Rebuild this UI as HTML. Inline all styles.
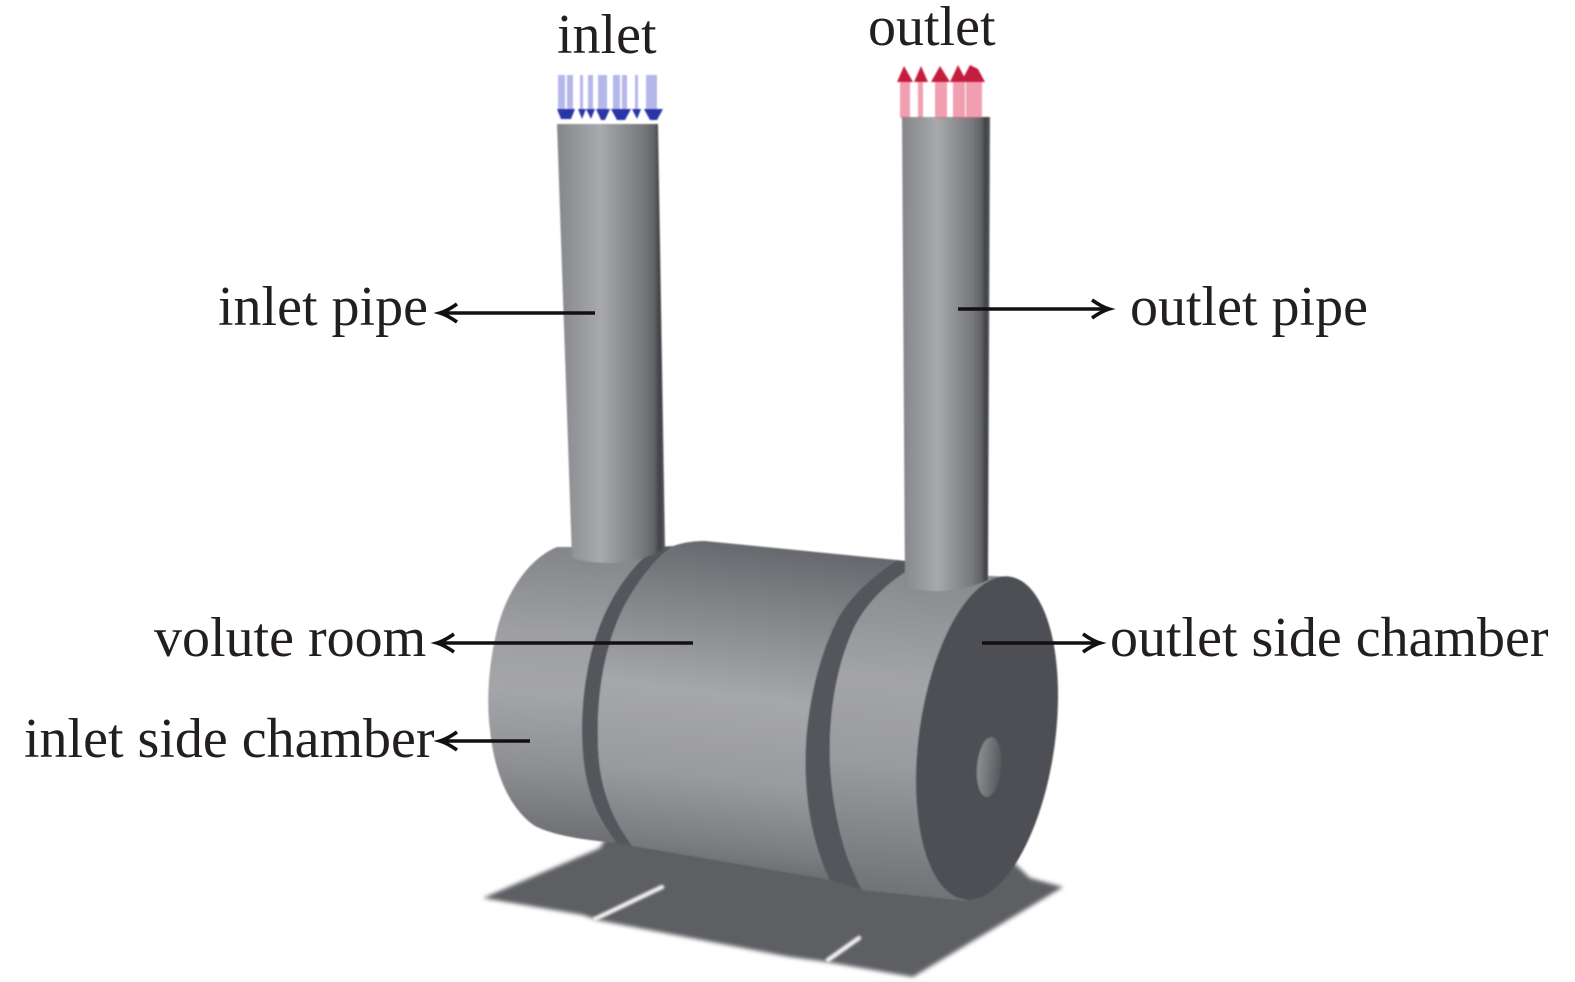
<!DOCTYPE html>
<html><head><meta charset="utf-8">
<style>
html,body{margin:0;padding:0;background:#fff;}
svg{display:block;}
text{font-family:"Liberation Serif","Times New Roman",serif;font-size:56px;fill:#231f20;}
</style></head><body>
<svg width="1575" height="982" viewBox="0 0 1575 982" xmlns="http://www.w3.org/2000/svg">
<defs>
  <filter id="sblur" x="-10%" y="-20%" width="120%" height="140%"><feGaussianBlur stdDeviation="2.2"/></filter>
  <filter id="gblur" x="-50%" y="-50%" width="200%" height="200%"><feGaussianBlur stdDeviation="1.3"/></filter>
  <filter id="soft" x="-5%" y="-5%" width="110%" height="110%"><feGaussianBlur stdDeviation="0.7"/></filter>
  <linearGradient id="pipe" x1="0" y1="0" x2="1" y2="0">
    <stop offset="0" stop-color="#84868a"/>
    <stop offset="0.15" stop-color="#919397"/>
    <stop offset="0.4" stop-color="#a8a9ad"/>
    <stop offset="0.58" stop-color="#909296"/>
    <stop offset="0.8" stop-color="#76787c"/>
    <stop offset="0.9" stop-color="#606266"/>
    <stop offset="0.95" stop-color="#3f4145"/>
    <stop offset="1" stop-color="#5a5c60"/>
  </linearGradient>
  <linearGradient id="vol" gradientUnits="userSpaceOnUse" x1="745" y1="543" x2="705" y2="880">
    <stop offset="0" stop-color="#66686d"/>
    <stop offset="0.18" stop-color="#808286"/>
    <stop offset="0.45" stop-color="#a6a7ab"/>
    <stop offset="0.7" stop-color="#999a9e"/>
    <stop offset="0.9" stop-color="#7a7c80"/>
    <stop offset="1" stop-color="#626468"/>
  </linearGradient>
  <linearGradient id="inch" gradientUnits="userSpaceOnUse" x1="565" y1="545" x2="545" y2="842">
    <stop offset="0" stop-color="#828488"/>
    <stop offset="0.3" stop-color="#9e9fa3"/>
    <stop offset="0.5" stop-color="#a4a5a9"/>
    <stop offset="0.75" stop-color="#8e8f93"/>
    <stop offset="1" stop-color="#6b6d71"/>
  </linearGradient>
  <linearGradient id="outch" gradientUnits="userSpaceOnUse" x1="935" y1="570" x2="905" y2="895">
    <stop offset="0" stop-color="#86888c"/>
    <stop offset="0.35" stop-color="#a3a4a8"/>
    <stop offset="0.6" stop-color="#9a9b9f"/>
    <stop offset="1" stop-color="#707276"/>
  </linearGradient>
  <linearGradient id="hole" x1="0" y1="0" x2="1" y2="0">
    <stop offset="0" stop-color="#8c8e92"/>
    <stop offset="0.45" stop-color="#75777b"/>
    <stop offset="1" stop-color="#55575b"/>
  </linearGradient>
</defs>

<!-- shadow -->
<g filter="url(#sblur)">
  <path d="M483,898 L600,848 L610,830 L800,862 L1013,862 L1030,878 L1063,887 L913,977 L827,962 L790,957 L597,920 L583,915 Z" fill="#5d5f64"/>
</g>
<g filter="url(#gblur)" stroke="#f2f2f2" stroke-width="4.5" stroke-linecap="round">
  <line x1="662" y1="887" x2="595" y2="919"/>
  <line x1="859" y1="938" x2="828" y2="960"/>
</g>

<g filter="url(#soft)">
<!-- inlet side chamber -->
<path d="M557,547 C530,558 507,590 497,630 C489,662 486,700 490,730 C494,770 508,808 535,826 C555,836 585,840 617,843 C598,820 583,790 582,737 C581,690 590,640 610,603 C622,580 640,558 657,547 Z" fill="url(#inch)"/>
<!-- ring 1 -->
<path d="M657,547 C640,558 622,580 610,603 C590,640 581,690 582,737 C583,790 598,820 617,843 L632,846 C614,820 598,790 598,737 C597,690 606,640 626,603 C639,580 656,558 673,546 Z" fill="#55575c"/>
<!-- volute room -->
<path d="M673,546 C685,542 695,541 705,541 L897,560 C880,570 850,595 837,620 C822,650 810,690 806,740 C803,790 810,840 830,880 L632,846 C614,820 598,790 598,737 C597,690 606,640 626,603 C639,580 656,558 673,546 Z" fill="url(#vol)"/>
<!-- ring 2 -->
<path d="M897,560 C880,570 850,595 837,620 C822,650 810,690 806,740 C803,790 810,840 830,880 L862,890 C845,860 832,810 830,760 C829,700 840,660 853,630 C865,605 885,585 906,572 L906,561 Z" fill="#55575c"/>
<!-- outlet side chamber -->
<path d="M906,572 C885,585 865,605 853,630 C840,660 829,700 830,760 C832,810 845,860 862,890 L966,901 L1012,577 Z" fill="url(#outch)"/>
<!-- end face -->
<ellipse cx="987" cy="738" rx="68" ry="163" transform="rotate(8 987 738)" fill="#4e5055"/>
<ellipse cx="989" cy="767" rx="12" ry="30" transform="rotate(5 989 767)" fill="url(#hole)"/>

<!-- inlet pipe -->
<path d="M557,124 L658,124 L665,548 C650,558 628,563 610,563 C595,563 582,561 572,558 Z" fill="url(#pipe)"/>
<!-- outlet pipe -->
<path d="M902,117 L990,117 L988,580 C972,588 952,591 936,591 C922,591 912,589 905,586 Z" fill="url(#pipe)"/>
</g>

<!-- inlet arrows (blue) -->
<g filter="url(#soft)">
  <g fill="#5b5fd0" fill-opacity="0.45">
    <rect x="558" y="75" width="7" height="38"/>
    <rect x="567" y="75" width="6" height="38"/>
    <rect x="580" y="75" width="3" height="38"/>
    <rect x="588" y="75" width="5" height="38"/>
    <rect x="598" y="75" width="9" height="38"/>
    <rect x="613" y="75" width="7" height="38"/>
    <rect x="622" y="75" width="5" height="38"/>
    <rect x="635" y="75" width="3" height="38"/>
    <rect x="646" y="75" width="11" height="38"/>
  </g>
  <g fill="#2c36a6">
    <path d="M557,109 L575,109 L571,119 L561,119 Z"/>
    <path d="M578,109 L586,109 L582,119 Z"/>
    <path d="M586,109 L595,109 L591,119 Z"/>
    <path d="M596,109 L610,109 L605,120 L601,120 Z"/>
    <path d="M611,109 L631,109 L625,120 L617,120 Z"/>
    <path d="M632,109 L641,109 L637,119 Z"/>
    <path d="M644,109 L663,109 L657,120 L650,120 Z"/>
  </g>
</g>

<!-- outlet arrows (red) -->
<g filter="url(#soft)">
  <g fill="#e5506f" fill-opacity="0.55">
    <rect x="900" y="78" width="10" height="40"/>
    <rect x="918" y="78" width="5" height="40"/>
    <rect x="935" y="78" width="12" height="40"/>
    <rect x="953" y="78" width="12" height="40"/>
    <rect x="966" y="78" width="16" height="40"/>
  </g>
  <g fill="#c41f3c">
    <path d="M897,82 L904,66 L913,82 Z"/>
    <path d="M914,82 L921,66 L928,82 Z"/>
    <path d="M931,82 L940,66 L950,82 Z"/>
    <path d="M950,82 L958,65 L967,82 Z"/>
    <path d="M961,82 L970,65 L978,69 L985,82 Z"/>
  </g>
</g>

<!-- leader lines -->
<g stroke="#111" stroke-width="3.6" fill="none">
  <line x1="441" y1="313" x2="595" y2="313"/>
  <path d="M457,304 Q447,311 440,313 Q447,315 457,322"/>
  <line x1="958" y1="309" x2="1108" y2="309"/>
  <path d="M1092,300 Q1102,307 1109,309 Q1102,311 1092,318"/>
  <line x1="438" y1="643" x2="693" y2="643"/>
  <path d="M454,634 Q444,641 437,643 Q444,645 454,652"/>
  <line x1="982" y1="643" x2="1099" y2="643"/>
  <path d="M1083,634 Q1093,641 1100,643 Q1093,645 1083,652"/>
  <line x1="441" y1="741" x2="530" y2="741"/>
  <path d="M457,732 Q447,739 440,741 Q447,743 457,750"/>
</g>

<!-- labels -->
<text x="557" y="53">inlet</text>
<text x="868" y="45">outlet</text>
<text x="218" y="325">inlet pipe</text>
<text x="1130" y="325">outlet pipe</text>
<text x="154" y="656">volute room</text>
<text x="1110" y="656">outlet side chamber</text>
<text x="24" y="757">inlet side chamber</text>
</svg>
</body></html>
